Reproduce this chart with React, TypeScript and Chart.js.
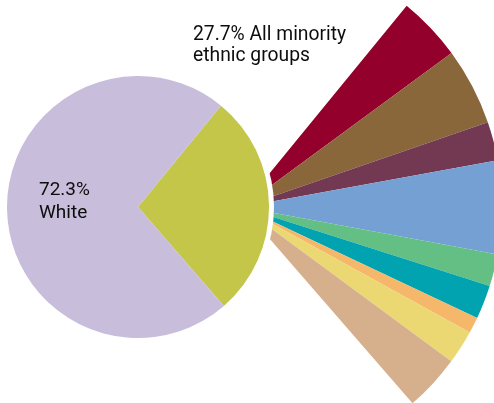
import React, { useEffect, useRef } from "react";
import { Chart, registerables } from "chart.js";

Chart.register(...registerables);

// Overall split (percent)
const mainLabels = ["All minority ethnic groups", "White"];
const mainValues = [27.7, 72.3];
const mainColors = ["#c3c648", "#c8bedc"];

// Breakdown of the minority share (percent of total population)
const minorityLabels = [
  "Group 1",
  "Group 2",
  "Group 3",
  "Group 4",
  "Group 5",
  "Group 6",
  "Group 7",
  "Group 8",
  "Group 9",
];
const minorityValues = [4.0, 4.8, 2.4, 5.8, 2.0, 2.1, 1.0, 2.1, 3.5];
const minorityColors = [
  "#92002b",
  "#8a663b",
  "#733852",
  "#75a0d3",
  "#63bf84",
  "#00a3af",
  "#f5b86a",
  "#ebd873",
  "#d6b08c",
];

const ROTATION = 39.3;

export default function App() {
  const fanRef = useRef<HTMLCanvasElement | null>(null);
  const pieRef = useRef<HTMLCanvasElement | null>(null);

  useEffect(() => {
    const fanData = [...minorityValues, mainValues[1]];
    const fanColors = [...minorityColors, "rgba(0,0,0,0)"];
    const fan = new Chart(fanRef.current as HTMLCanvasElement, {
      type: "pie",
      data: {
        labels: [...minorityLabels, "White"],
        datasets: [
          {
            data: fanData,
            backgroundColor: fanColors,
            borderWidth: 0,
          },
        ],
      },
      options: {
        responsive: false,
        animation: false,
        rotation: ROTATION,
        layout: { padding: 0 },
        plugins: { legend: { display: false }, tooltip: { enabled: false } },
      },
    });
    const pie = new Chart(pieRef.current as HTMLCanvasElement, {
      type: "pie",
      data: {
        labels: mainLabels,
        datasets: [
          {
            data: mainValues,
            backgroundColor: mainColors,
            borderWidth: 0,
          },
        ],
      },
      options: {
        responsive: false,
        animation: false,
        rotation: ROTATION,
        layout: { padding: 0 },
        plugins: { legend: { display: false }, tooltip: { enabled: false } },
      },
    });
    return () => {
      fan.destroy();
      pie.destroy();
    };
  }, []);

  const font = 'Roboto, "Open Sans", sans-serif';
  return (
    <div
      style={{
        position: "fixed",
        left: 0,
        top: 0,
        width: 494,
        height: 403,
        overflow: "hidden",
        background: "#ffffff",
      }}
    >
      <canvas
        ref={fanRef}
        width={520}
        height={520}
        style={{ position: "absolute", left: -18, top: -53, width: 520, height: 520 }}
      />
      <div
        style={{
          position: "absolute",
          left: 2,
          top: 71,
          width: 272,
          height: 272,
          borderRadius: "50%",
          background: "#ffffff",
        }}
      />
      <canvas
        ref={pieRef}
        width={262}
        height={262}
        style={{ position: "absolute", left: 7, top: 76, width: 262, height: 262 }}
      />
      <div
        style={{
          position: "absolute",
          left: 193,
          top: 22.5,
          fontFamily: font,
          fontSize: 19.3,
          fontWeight: 400,
          lineHeight: "21px",
          color: "#0d0d0d",
          whiteSpace: "nowrap",
        }}
      >
        27.7% All minority
        <br />
        ethnic groups
      </div>
      <div
        style={{
          position: "absolute",
          left: 39,
          top: 178.3,
          fontFamily: font,
          fontSize: 19,
          fontWeight: 400,
          lineHeight: "22.5px",
          color: "#0d0d0d",
          whiteSpace: "nowrap",
        }}
      >
        72.3%
        <br />
        White
      </div>
    </div>
  );
}
